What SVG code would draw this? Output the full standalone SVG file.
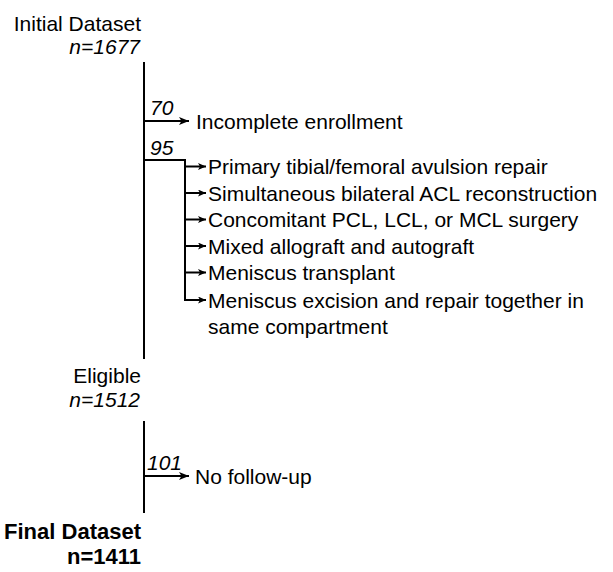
<svg xmlns="http://www.w3.org/2000/svg" width="613" height="572" viewBox="0 0 613 572">
<defs>
<marker id="ah" viewBox="0 0 10 8" refX="10" refY="4" markerWidth="10" markerHeight="8" markerUnits="userSpaceOnUse" orient="auto">
<path d="M0,0 L10,4 L0,8 L2.5,4 Z" fill="#000"/>
</marker>
<marker id="ahs" viewBox="0 0 8 7" refX="8" refY="3.5" markerWidth="8" markerHeight="7" markerUnits="userSpaceOnUse" orient="auto">
<path d="M0,0 L8,3.5 L0,7 L2,3.5 Z" fill="#000"/>
</marker>
</defs>
<style>
text{font-family:"Liberation Sans",Arial,Helvetica,sans-serif;font-size:21px;fill:#000}
.it{font-style:italic}
.r{text-anchor:end}
.b{font-weight:bold;font-size:22px}
.ln{stroke:#000;stroke-width:2;fill:none}
</style>
<g id="connectors">
<path class="ln" d="M144,62 V359"/>
<path class="ln" d="M144,121 H189" marker-end="url(#ah)"/>
<path class="ln" d="M144,160 H185 V301"/>
<path class="ln" d="M185,166.5 H206" marker-end="url(#ahs)"/>
<path class="ln" d="M185,193 H206" marker-end="url(#ahs)"/>
<path class="ln" d="M185,219.5 H206" marker-end="url(#ahs)"/>
<path class="ln" d="M185,246 H206" marker-end="url(#ahs)"/>
<path class="ln" d="M185,272.5 H206" marker-end="url(#ahs)"/>
<path class="ln" d="M185,300 H206" marker-end="url(#ahs)"/>
<path class="ln" d="M144,421 V513"/>
<path class="ln" d="M144,476 H189" marker-end="url(#ah)"/>
</g>
<g id="initial">
<text class="r" x="141" y="31">Initial Dataset</text>
<text class="r it" x="140" y="54">n=1677</text>
</g>
<g id="excl70">
<text class="it" x="150" y="115">70</text>
<text x="196" y="128.5">Incomplete enrollment</text>
</g>
<g id="excl95">
<text class="it" x="150" y="155">95</text>
<text x="208" y="174">Primary tibial/femoral avulsion repair</text>
<text x="208" y="200.5">Simultaneous bilateral ACL reconstruction</text>
<text x="208" y="227">Concomitant PCL, LCL, or MCL surgery</text>
<text x="208" y="253.5">Mixed allograft and autograft</text>
<text x="208" y="280">Meniscus transplant</text>
<text x="208" y="307.5">Meniscus excision and repair together in</text>
<text x="208" y="334">same compartment</text>
</g>
<g id="eligible">
<text class="r" x="141" y="383">Eligible</text>
<text class="r it" x="140" y="407">n=1512</text>
</g>
<g id="excl101">
<text class="it" x="147" y="470">101</text>
<text x="195" y="483.5">No follow-up</text>
</g>
<g id="final">
<text class="r b" x="141" y="539">Final Dataset</text>
<text class="r b" x="141" y="564">n=1411</text>
</g>
</svg>
